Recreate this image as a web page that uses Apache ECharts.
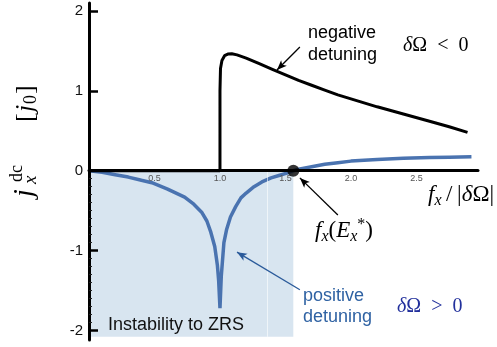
<!DOCTYPE html>
<html>
<head>
<meta charset="utf-8">
<script src="https://cdn.jsdelivr.net/npm/echarts@6/dist/echarts.min.js"></script>
<style>
html, body { margin: 0; padding: 0; background: #fff; }
#chart { width: 497px; height: 347px; }
</style>
</head>
<body>
<div id="chart"></div>
<script>
// negative detuning (black)
var blackX = [0, 1.0, 1.0, 1.004, 1.015, 1.035, 1.06, 1.09, 1.13, 1.2, 1.3, 1.4, 1.5, 1.6, 1.7, 1.8, 1.9, 2.0, 2.2, 2.4, 2.6, 2.75, 2.89];
var blackY = [0, 0, 1.0, 1.28, 1.38, 1.44, 1.46, 1.465, 1.45, 1.41, 1.34, 1.27, 1.2, 1.13, 1.07, 1.01, 0.95, 0.9, 0.8, 0.71, 0.62, 0.55, 0.48];
// positive detuning (blue)
var blueX = [0, 0.1, 0.2, 0.3, 0.4, 0.48, 0.6, 0.73, 0.8, 0.86, 0.9, 0.93, 0.96, 0.98, 0.99, 1.0, 1.01, 1.03, 1.05, 1.08, 1.12, 1.16, 1.2, 1.26, 1.32, 1.39, 1.45, 1.51, 1.56, 1.6, 1.7, 1.8, 1.9, 2.0, 2.2, 2.4, 2.6, 2.75, 2.92];
var blueY = [0, -0.02, -0.05, -0.08, -0.12, -0.15, -0.23, -0.33, -0.42, -0.52, -0.63, -0.77, -0.95, -1.18, -1.38, -1.72, -1.32, -0.9, -0.74, -0.58, -0.45, -0.34, -0.28, -0.2, -0.14, -0.09, -0.06, -0.03, 0, 0.02, 0.05, 0.08, 0.1, 0.12, 0.14, 0.155, 0.165, 0.17, 0.175];
// f_x(E_x*) point and the instability band
var critX = 1.56;
var bandBottom = -2.08;
var bandSplit = 1.36;
// annotation arrows: [fromX, fromY, toX, toY]
var arrowNeg = [1.61, 1.55, 1.435, 1.26];
var arrowCrit = [1.90, -0.555, 1.61, -0.09];
var arrowPos = [1.61, -1.49, 1.13, -1.02];

var yMin = -2.12, yMax = 2.1, xMax = 2.97, gridTop = 3, gridBottom = 7, H = 347;
var k = (H - gridTop - gridBottom) / (yMax - yMin);
function py(v) { return gridTop + (yMax - v) * k; }

var sans = '"Liberation Sans", Helvetica, Arial, sans-serif';
var serif = '"Liberation Serif", "DejaVu Serif", serif';

function pairs(xs, ys) { return xs.map(function (x, i) { return [x, ys[i]]; }); }
function arrow(a, color) {
  return [
    { coord: [a[0], a[1]], symbol: 'none', lineStyle: { color: color, width: 1.3, type: 'solid' } },
    { coord: [a[2], a[3]], symbol: 'arrow', symbolSize: [6, 10] }
  ];
}

var mathRich = {
  i: { fontFamily: serif, fontStyle: 'italic', fontSize: 23, lineHeight: 28, verticalAlign: 'middle' },
  n: { fontFamily: serif, fontSize: 23, lineHeight: 28, verticalAlign: 'middle' },
  s: { fontFamily: serif, fontStyle: 'italic', fontSize: 16, lineHeight: 15, verticalAlign: 'bottom' },
  p: { fontFamily: serif, fontSize: 16, lineHeight: 15, verticalAlign: 'top' }
};

var chart = echarts.init(document.getElementById('chart'));
var option = {
  animation: false,
  grid: [
    { left: 89, right: 19, top: gridTop, bottom: gridBottom },
    { left: 89, right: 19, top: py(2), bottom: H - py(-2) },
    { left: 89, right: 19, top: py(0), bottom: H - py(-2) },
    { left: 89, right: 19, top: gridTop, bottom: H - py(0) }
  ],
  xAxis: [
    {
      gridIndex: 0, type: 'value', min: 0, max: xMax, z: 5,
      axisLine: { onZero: true, lineStyle: { color: '#000', width: 3 } },
      axisTick: { show: false }, splitLine: { show: false }, axisLabel: { show: false }
    },
    { gridIndex: 1, type: 'value', show: false, min: 0, max: 1 },
    { gridIndex: 2, type: 'value', show: false, min: 0, max: 1 },
    {
      gridIndex: 3, type: 'value', min: 0, max: xMax, interval: 0.5, z: 6,
      axisLine: { show: false }, axisTick: { show: false }, splitLine: { show: false },
      axisLabel: {
        fontSize: 9, color: '#555', fontFamily: sans, margin: 3, showMaxLabel: false,
        formatter: function (v) { return v === 0 ? '' : v.toFixed(1); }
      }
    }
  ],
  yAxis: [
    {
      gridIndex: 0, type: 'value', min: yMin, max: yMax, z: 5,
      axisLine: { show: true, onZero: false, lineStyle: { color: '#000', width: 3 } },
      axisTick: { show: false }, axisLabel: { show: false }, splitLine: { show: false }
    },
    {
      gridIndex: 1, type: 'value', min: -2, max: 2, interval: 1, z: 5,
      axisLine: { show: false },
      axisTick: { show: true, inside: true, length: 9, lineStyle: { color: '#000', width: 2.5 } },
      axisLabel: { fontSize: 15, color: '#111', fontFamily: sans, margin: 6 },
      splitLine: { show: false }
    },
    {
      gridIndex: 2, type: 'value', min: -2, max: 0, interval: 1, z: 5,
      axisLine: { show: false },
      axisTick: { show: false, inside: true },
      minorTick: { show: true, splitNumber: 10, length: 3, lineStyle: { color: '#222', width: 1 } },
      axisLabel: { show: false }, splitLine: { show: false }
    },
    { gridIndex: 3, type: 'value', show: false, min: 0, max: 1 }
  ],
  series: [
    {
      name: 'positive detuning', type: 'line', xAxisIndex: 0, yAxisIndex: 0,
      data: pairs(blueX, blueY), showSymbol: false, z: 3,
      lineStyle: { color: '#4a73b0', width: 3.5 },
      markArea: {
        silent: true,
        itemStyle: { color: '#d8e5f0' },
        data: [[{ coord: [0, 0] }, { coord: [critX, bandBottom] }]]
      },
      markLine: {
        silent: true, symbol: 'none', label: { show: false },
        lineStyle: { color: 'rgba(255,255,255,0.6)', width: 1, type: 'solid' },
        data: [[{ coord: [bandSplit, 0] }, { coord: [bandSplit, bandBottom] }]]
      }
    },
    {
      name: 'negative detuning', type: 'line', xAxisIndex: 0, yAxisIndex: 0,
      data: pairs(blackX, blackY), showSymbol: false, z: 4,
      lineStyle: { color: '#000', width: 3 },
      markLine: {
        silent: true, label: { show: false },
        data: [arrow(arrowNeg, '#000'), arrow(arrowCrit, '#000'), arrow(arrowPos, '#2a5a9a')]
      }
    },
    {
      name: 'critical', type: 'scatter', xAxisIndex: 0, yAxisIndex: 0,
      data: [[critX, 0]], symbolSize: 12, z: 6,
      itemStyle: { color: '#000' }
    }
  ],
  graphic: [
    {
      type: 'text', x: 308, y: 22, z: 10,
      style: { text: 'negative\ndetuning', font: '18px ' + sans, fill: '#000', lineHeight: 22, align: 'left' }
    },
    {
      type: 'text', x: 403, y: 46, z: 10,
      style: {
        text: '{i|δ}{n|Ω\u2002<\u20020}', fill: '#000', verticalAlign: 'middle',
        rich: { i: { fontFamily: serif, fontStyle: 'italic', fontSize: 20 }, n: { fontFamily: serif, fontSize: 20 } }
      }
    },
    {
      type: 'text', x: 303, y: 286, z: 10,
      style: { text: 'positive\ndetuning', font: '18px ' + sans, fill: '#2f62a3', lineHeight: 21, align: 'left' }
    },
    {
      type: 'text', x: 397, y: 307, z: 10,
      style: {
        text: '{i|δ}{n|Ω\u2002>\u20020}', fill: '#22309c', verticalAlign: 'middle',
        rich: { i: { fontFamily: serif, fontStyle: 'italic', fontSize: 20, fill: '#22309c' }, n: { fontFamily: serif, fontSize: 20, fill: '#22309c' } }
      }
    },
    {
      type: 'text', x: 108, y: 325, z: 10,
      style: { text: 'Instability to ZRS', font: '18px ' + sans, fill: '#111', verticalAlign: 'middle' }
    },
    {
      type: 'text', x: 315, y: 231, z: 10,
      style: { text: '{i|f}{s|x}{n|(}{i|E}{s|x}{p|*}{n|)}', fill: '#000', verticalAlign: 'middle', rich: mathRich }
    },
    {
      type: 'text', x: 428, y: 195, z: 10,
      style: { text: '{i|f}{s|x}{n|\u2009/\u2009|}{i|δ}{n|Ω|}', fill: '#000', verticalAlign: 'middle', rich: mathRich }
    },
    {
      type: 'group', x: 33, y: 200, rotation: Math.PI / 2, z: 10,
      children: [
        { type: 'text', x: 3, y: -8, style: { text: 'j', font: 'italic 28px ' + serif, fill: '#000', verticalAlign: 'middle' } },
        { type: 'text', x: 16, y: -2, style: { text: 'x', font: 'italic 19px ' + serif, fill: '#000', verticalAlign: 'middle' } },
        { type: 'text', x: 18, y: -16, style: { text: 'dc', font: '18px ' + serif, fill: '#000', verticalAlign: 'middle' } },
        { type: 'text', x: 78, y: -7, style: { text: '[', font: '26px ' + serif, fill: '#000', verticalAlign: 'middle' } },
        { type: 'text', x: 88, y: -7, style: { text: 'j', font: 'italic 26px ' + serif, fill: '#000', verticalAlign: 'middle' } },
        { type: 'text', x: 96, y: -2, style: { text: '0', font: '18px ' + serif, fill: '#000', verticalAlign: 'middle' } },
        { type: 'text', x: 106, y: -7, style: { text: ']', font: '26px ' + serif, fill: '#000', verticalAlign: 'middle' } }
      ]
    }
  ]
};
chart.setOption(option);
</script>
</body>
</html>
